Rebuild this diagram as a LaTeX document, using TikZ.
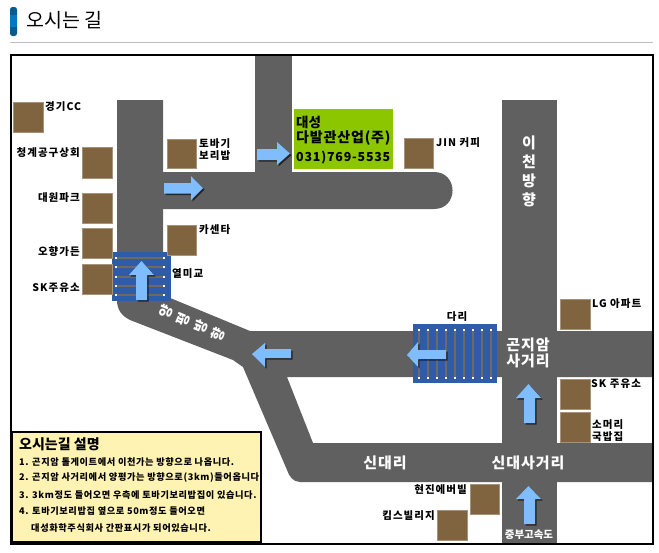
\documentclass[tikz,border=0pt]{standalone}
\usepackage{fontspec}
\setmainfont{Noto Sans CJK KR}
\newfontfamily\lblfont[LetterSpace=10]{Noto Sans CJK KR}
\newfontfamily\notefont[LetterSpace=6.5]{Noto Sans CJK KR}
\newfontfamily\roadfont[LetterSpace=6]{Noto Sans CJK KR}
\usetikzlibrary{shadows}

\definecolor{roadgray}{HTML}{606060}
\definecolor{stripegray}{HTML}{6E6A62}
\definecolor{bridgeblue}{HTML}{2F5BA8}
\definecolor{arrowblue}{HTML}{7FBDFF}
\definecolor{shopbrown}{HTML}{80643F}
\definecolor{officegreen}{HTML}{8CC600}
\definecolor{notecream}{HTML}{FFF3B4}

\tikzset{
  road/.style={fill=roadgray},
  bridge/.style={fill=bridgeblue},
  stripe/.style={draw=stripegray, line width=2pt},
  dots/.style={draw=white, line width=2pt, dash pattern=on 2pt off 7.05pt},
  way/.style={fill=arrowblue, drop shadow={shadow xshift=1.5pt, shadow yshift=-1.5pt, fill=black, opacity=0.6}},
  shop/.style={fill=shopbrown, draw=shopbrown!70!white, line width=0.6pt},
  lbl/.style={inner sep=0pt, align=left, font=\lblfont\bfseries\fontsize{10.5}{11.5}\selectfont},
  roadlbl/.style={inner sep=0pt, align=center, text=white, font=\roadfont\bfseries\fontsize{15}{16}\selectfont},
  noteline/.style={inner sep=0pt, anchor=west, font=\notefont\bfseries\fontsize{9.2}{11}\selectfont}
}

\begin{document}
\begin{tikzpicture}[x=1pt,y=-1pt]
  \useasboundingbox (0,0) rectangle (659,552);
  \fill[white] (0,0) rectangle (659,552);

  % Heading
  \fill[rounded corners=2.5pt, color={rgb,255:red,10;green,90;blue,140}] (10,7) rectangle (17,36);
  \fill[color={rgb,255:red,0;green,120;blue,189}] (10,15) rectangle (17,27);
  \node[inner sep=0pt, anchor=west, font=\fontsize{19.5}{22}\selectfont] (heading) at (26,20) {오시는 길};
  \draw[color=black!25] (10,42.5) coordinate (rule0) -- (653,42.5) coordinate (rule1);

  % Roads
  \fill[road] (255,55) rectangle (292,190);
  \fill[road] (163,172) -- (434,172) .. controls (458.7,172) and (458.7,209) .. (434,209) -- (163,209) -- cycle;
  \fill[road] (117,100) -- (163,100) -- (163,295) -- (250,331) -- (270,350) -- (243,367) -- (233,360) -- (130,320)
    .. controls (122,316) and (117,310) .. (117,300) -- cycle;
  \fill[road] (250,331) -- (653,331) -- (653,377) -- (287,377) -- (313,443) -- (653,443) -- (653,482) -- (300,482)
    .. controls (293,482) and (289,476) .. (287,470) -- (243,367) -- cycle;
  \fill[road] (502,100) rectangle (557,544);

  % Left bridge
  \fill[bridge] (112,252) rectangle (171,301);
  \draw[stripe] (116,258) -- (164,258);
  \draw[stripe] (116,267) -- (164,267);
  \draw[stripe] (116,277) -- (164,277);
  \draw[stripe] (116,286) -- (164,286);
  \draw[stripe] (116,295) -- (164,295);
  \fill[white] (115,257) rectangle (117,259);
  \fill[white] (115,266) rectangle (117,268);
  \fill[white] (115,276) rectangle (117,278);
  \fill[white] (115,285) rectangle (117,287);
  \fill[white] (115,294) rectangle (117,296);
  \fill[white] (163,257) rectangle (165,259);
  \fill[white] (163,266) rectangle (165,268);
  \fill[white] (163,276) rectangle (165,278);
  \fill[white] (163,285) rectangle (165,287);
  \fill[white] (163,294) rectangle (165,296);

  % Right bridge
  \fill[bridge] (412.5,324) rectangle (497,383);
  \draw[stripe] (418.7,330) -- (418.7,378);
  \draw[stripe] (427.7,330) -- (427.7,378);
  \draw[stripe] (436.7,330) -- (436.7,378);
  \draw[stripe] (445.7,330) -- (445.7,378);
  \draw[stripe] (454.7,330) -- (454.7,378);
  \draw[stripe] (463.7,330) -- (463.7,378);
  \draw[stripe] (473,330) -- (473,378);
  \draw[stripe] (482.3,330) -- (482.3,378);
  \draw[stripe] (491.3,330) -- (491.3,378);
  \draw[dots] (417.7,330) -- (493,330);
  \draw[dots] (417.7,378) -- (493,378);

  % Direction arrows
  \fill[way] (257,149) -- (277,149) -- (277,142) -- (290,153.5) -- (277,165) -- (277,160) -- (257,160) -- cycle;
  \fill[way] (164,183) -- (191,183) -- (191,176) -- (203,188) -- (191,200) -- (191,193.5) -- (164,193.5) -- cycle;
  \fill[way] (136,300) -- (136,275) -- (129,275) -- (141.5,261) -- (154,275) -- (147,275) -- (147,300) -- cycle;
  \fill[way] (291,349) -- (265,349) -- (265,343) -- (252,354) -- (265,367) -- (265,358) -- (291,358) -- cycle;
  \fill[way] (446,350) -- (418,350) -- (418,342) -- (407,355) -- (418,367) -- (418,359) -- (446,359) -- cycle;
  \fill[way] (524,423) -- (524,398) -- (516,398) -- (528.5,384) -- (541,398) -- (535,398) -- (535,423) -- cycle;
  \fill[way] (524,524) -- (524,499) -- (516,499) -- (528.5,486) -- (541,499) -- (535,499) -- (535,524) -- cycle;

  % Office
  \fill[color=officegreen] (294,109) rectangle (393,168.5);
  \node[lbl, anchor=west, font=\bfseries\fontsize{13.5}{15}\selectfont] (office0) at (296,122) {대성};
  \node[lbl, anchor=west, font=\roadfont\bfseries\fontsize{14}{15}\selectfont] (office1) at (296,138) {다발관산업(주)};
  \node[lbl, anchor=west, font=\notefont\bfseries\fontsize{12.4}{15}\selectfont] (office2) at (296,158) {031)769-5535};

  % Shops
  \filldraw[shop] (13,102) rectangle (43,132);
  \filldraw[shop] (82,147) rectangle (112,178);
  \filldraw[shop] (82,193) rectangle (112,223);
  \filldraw[shop] (82,228) rectangle (112,258);
  \filldraw[shop] (82,264) rectangle (112,294);
  \filldraw[shop] (167,139) rectangle (196,168);
  \filldraw[shop] (167,225) rectangle (196,255);
  \filldraw[shop] (404,138) rectangle (433,168);
  \filldraw[shop] (560,299) rectangle (590,329);
  \filldraw[shop] (560,379) rectangle (590,409);
  \filldraw[shop] (560,412) rectangle (590,442);
  \filldraw[shop] (470,484) rectangle (499,514);
  \filldraw[shop] (437,510) rectangle (467,540);

  % Shop labels
  \node[lbl, anchor=west] (gyeonggi) at (45,107) {경기CC};
  \node[lbl, anchor=east] (cheonggye) at (80,153) {청계공구상회};
  \node[lbl, anchor=east] (daewon) at (80,198) {대원파크};
  \node[lbl, anchor=east] (ohyang) at (80,252) {오향가든};
  \node[lbl, anchor=east] (skleft) at (80,288) {SK주유소};
  \node[lbl, anchor=west] (tobagi) at (199,149.5) {토바기\\보리밥};
  \node[lbl, anchor=west] (center) at (199,230) {카센타};
  \node[lbl, anchor=west] (yeolmi) at (172,274) {열미교};
  \node[lbl, anchor=west] (jin) at (436,143) {JIN 커피};
  \node[lbl, anchor=west] (lg) at (592,304) {LG 아파트};
  \node[lbl, anchor=west] (skright) at (591,384) {SK 주유소};
  \node[lbl, anchor=west] (gukbap) at (592,430.5) {소머리\\국밥집};
  \node[lbl] (dari) at (457,317) {다리};
  \node[lbl, anchor=east] (hyeonjin) at (467,490) {현진에버빌};
  \node[lbl, anchor=east] (kims) at (435,516) {킴스빌리지};

  % Road labels
  \node[roadlbl] (icheon) at (529,171.5) {이\\[3pt]천\\[3pt]방\\[3pt]향};
  \node[roadlbl] (gonjiam) at (528,353) {곤지암\\사거리};
  \node[roadlbl] (sindae) at (385,463) {신대리};
  \node[roadlbl] (sindaecross) at (528,463) {신대사거리};
  \node[roadlbl, font=\bfseries\fontsize{10.5}{12}\selectfont] (jungbu) at (529,535) {중부고속도};
  \node[roadlbl, rotate=67, font=\bfseries\fontsize{14}{19}\selectfont] (yangpyeong) at (192,323) {양\\평\\방\\향};

  % Frame
  \draw[line width=2pt] (10.5,55) rectangle (653,544);

  % Directions note
  \filldraw[fill=notecream, draw=black, line width=2pt] (12,432) rectangle (261,542);
  \node[noteline, font=\bfseries\fontsize{14}{16}\selectfont] (note0) at (19,444) {오시는길 설명};
  \node[noteline] (note1) at (19,462) {1. 곤지암 톨게이트에서 이천가는 방향으로 나옵니다.};
  \node[noteline] (note2) at (19,478) {2. 곤지암 사거리에서 양평가는 방향으로(3km)들어옵니다.};
  \node[noteline] (note3) at (19,495) {3. 3km정도 들어오면 우측에 토바기보리밥집이 있습니다.};
  \node[noteline] (note4) at (19,511) {4. 토바기보리밥집 옆으로 50m정도 들어오면};
  \node[noteline] (note5) at (31,528) {대성화학주식회사 간판표시가 되어있습니다.};
\end{tikzpicture}
\end{document}
